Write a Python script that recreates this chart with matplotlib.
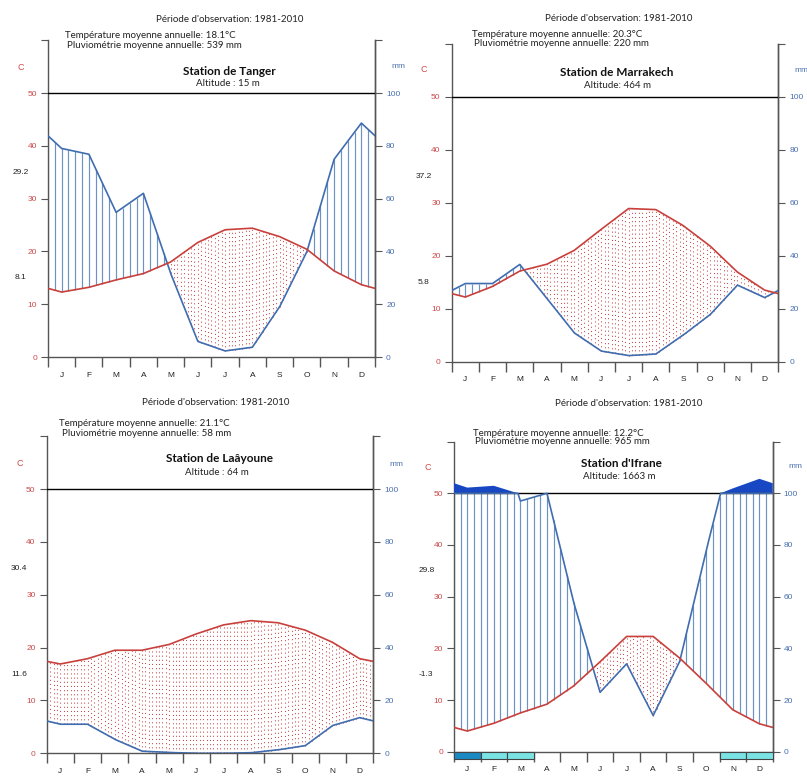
import numpy as np
import matplotlib
matplotlib.use('Agg')
import matplotlib.pyplot as plt
from matplotlib.patches import Rectangle

plt.rcParams['font.family'] = ['Liberation Sans', 'DejaVu Sans']

W, H = 807, 778
months = ['J', 'F', 'M', 'A', 'M', 'J', 'J', 'A', 'S', 'O', 'N', 'D']

# ---- data (monthly means: temperature degC, precipitation mm) ----
tanger_temp = [12.3, 13.2, 14.6, 15.8, 18.0, 21.7, 24.1, 24.4, 22.8, 20.4, 16.3, 13.7]
tanger_prec = [79, 76.8, 54.8, 62, 31.7, 5.9, 2.3, 3.7, 19, 39.9, 74.9, 88.6]
tanger_frost = [0] * 12
tanger_extremes = ['29.2', '8.1']

marrakech_temp = [12.2, 14.2, 17.1, 18.4, 21.0, 25.0, 28.9, 28.7, 25.7, 21.8, 16.9, 13.5]
marrakech_prec = [29.5, 29.5, 36.7, 23.9, 10.9, 4.0, 2.3, 2.9, 10, 17.8, 28.9, 24.2]
marrakech_frost = [0] * 12
marrakech_extremes = ['37.2', '5.8']

laayoune_temp = [16.9, 17.9, 19.5, 19.5, 20.6, 22.6, 24.3, 25.1, 24.7, 23.3, 21.0, 17.9]
laayoune_prec = [11, 11, 5.3, 0.8, 0.3, 0, 0, 0.2, 1.3, 2.9, 10.5, 13.5]
laayoune_frost = [0] * 12
laayoune_extremes = ['30.4', '11.6']

ifrane_temp = [4.0, 5.5, 7.5, 9.2, 12.7, 17.4, 22.3, 22.3, 18.1, 13.2, 8.1, 5.4]
ifrane_prec = [122, 129, 97, 100, 58, 23, 34, 14, 35, 78, 119, 156]
ifrane_frost = [2, 1, 1, 0, 0, 0, 0, 0, 0, 0, 1, 1]   # 2 = sure frost, 1 = probable
ifrane_extremes = ['29.8', '-1.3']

stations = [
    dict(name="Station de Tanger", alt="Altitude : 15 m",
         tline="Température moyenne annuelle: 18.1°C",
         pline="Pluviométrie moyenne annuelle: 539 mm",
         temp=tanger_temp, prec=tanger_prec, frost=tanger_frost, ext=tanger_extremes,
         box=(48, 375, 357, 40.2),
         per=(230, 19), tl=(65, 36), pl=(67, 45.5), c=(21, 67), mm=(391, 67),
         st=(229, 71.5), al=(228, 83.5)),
    dict(name="Station de Marrakech", alt="Altitude: 464 m",
         tline="Température moyenne annuelle: 20.3°C",
         pline="Pluviométrie moyenne annuelle: 220 mm",
         temp=marrakech_temp, prec=marrakech_prec, frost=marrakech_frost, ext=marrakech_extremes,
         box=(451.7, 778.3, 361.7, 43.7),
         per=(619, 18.5), tl=(472, 34.5), pl=(474, 43), c=(424, 70), mm=(794, 70),
         st=(617, 72), al=(617.5, 85)),
    dict(name="Station de Laâyoune", alt="Altitude : 64 m",
         tline="Température moyenne annuelle: 21.1°C",
         pline="Pluviométrie moyenne annuelle: 58 mm",
         temp=laayoune_temp, prec=laayoune_prec, frost=laayoune_frost, ext=laayoune_extremes,
         box=(46.7, 373.3, 753.3, 436.2),
         per=(216, 402.5), tl=(59, 423.5), pl=(62, 433), c=(20, 463), mm=(389, 464),
         st=(219, 459), al=(217, 472.5)),
    dict(name="Station d'Ifrane", alt="Altitude: 1663 m",
         tline="Température moyenne annuelle: 12.2°C",
         pline="Pluviométrie moyenne annuelle: 965 mm",
         temp=ifrane_temp, prec=ifrane_prec, frost=ifrane_frost, ext=ifrane_extremes,
         box=(454, 772.7, 751.7, 441.6),
         per=(629, 404), tl=(473, 433), pl=(475, 442), c=(428, 468), mm=(788, 467),
         st=(621.5, 463), al=(619.5, 476)),
]

RED = '#c8403c'
BLUE = '#3f6db0'
HATCH = '#6a92c2'
DARK = '#1747c2'
AXC = '#555555'

fig = plt.figure(figsize=(W / 100, H / 100), dpi=100)


def P(x, y):
    return x / W, 1 - y / H


def scale_p(p):
    p = np.asarray(p, dtype=float)
    return np.where(p > 100, 50 + (p - 100) * 0.05, p / 2.0)


for s in stations:
    left, right, y0, y60 = s['box']
    ax = fig.add_axes([left / W, 1 - y0 / H, (right - left) / W, (y0 - y60) / H])
    ax.set_xlim(0, 12)
    ax.set_ylim(0, 60)
    ax.patch.set_alpha(0)

    t = np.asarray(s['temp'], float)
    p = np.asarray(s['prec'], float)
    xe = np.concatenate([[0], np.arange(0.5, 12, 1.0), [12]])
    te = np.concatenate([[(t[0] + t[-1]) / 2], t, [(t[0] + t[-1]) / 2]])
    pe = np.concatenate([[(p[0] + p[-1]) / 2], p, [(p[0] + p[-1]) / 2]])

    # humid period: vertical hatching
    xh = np.arange(0, 12.0001, 0.25)
    th = np.interp(xh, xe, te)
    ph = scale_p(np.interp(xh, xe, pe))
    m = ph > th
    ax.vlines(xh[m], th[m], np.minimum(ph[m], 50), colors=HATCH, lw=0.85, zorder=2)

    # arid period: dotted red vertical lines
    xa = np.arange(0, 12.0001, 1 / 8)
    ta = np.interp(xa, xe, te)
    pa = scale_p(np.interp(xa, xe, pe))
    m = ta > pa
    ax.vlines(xa[m], pa[m], ta[m], colors='#c84a46', lw=0.75,
              linestyles=[(0, (1, 3))], zorder=2)

    # dense precipitation curve
    xd = np.linspace(0, 12, 1201)
    pd_ = scale_p(np.interp(xd, xe, pe))
    ax.fill_between(xd, 50, pd_, where=pd_ > 50, color=DARK, lw=0, zorder=3)

    ax.axhline(50, color='black', lw=1.0, zorder=4)
    ax.plot(xd, np.minimum(pd_, 50), color=BLUE, lw=1.2, zorder=5)
    ax.plot(xe, te, color=RED, lw=1.2, zorder=5)

    # frost boxes
    for i, f in enumerate(s['frost']):
        if f:
            ax.add_patch(Rectangle((i, -1.47), 1, 1.47,
                                   facecolor='#1a8ac4' if f == 2 else '#7ae3e3',
                                   edgecolor='#444444', lw=0.8, clip_on=False, zorder=6))

    # axes styling
    ax.spines['top'].set_visible(False)
    for sp in ['left', 'right', 'bottom']:
        ax.spines[sp].set_color(AXC)
        ax.spines[sp].set_linewidth(1.0)
    ax.set_yticks(np.arange(0, 61, 10))
    ax.set_yticklabels(['0', '10', '20', '30', '40', '50', ''])
    ax.tick_params(axis='y', colors=AXC, labelcolor='#cc4a4a', length=5, width=0.8,
                   labelsize=6, pad=3)
    ax.set_xticks(np.arange(0, 13))
    ax.set_xticklabels([''] * 13)
    ax.tick_params(axis='x', which='major', colors=AXC, length=7, width=1.0)
    ax.set_xticks(np.arange(0.5, 12, 1), minor=True)
    ax.set_xticklabels(months, minor=True)
    ax.tick_params(axis='x', which='minor', length=0, pad=10.5, labelsize=6, labelcolor='#222222')

    sec = ax.secondary_yaxis('right', functions=(lambda v: v * 2, lambda v: v / 2))
    sec.set_yticks(np.arange(0, 121, 20))
    sec.set_yticklabels(['0', '20', '40', '60', '80', '100', ''])
    sec.tick_params(colors=AXC, labelcolor='#4a6fb0', length=5, width=0.8, labelsize=6, pad=3)
    sec.spines['right'].set_color(AXC)
    sec.spines['right'].set_linewidth(1.0)

    # extreme values at left
    for val, yv in zip(s['ext'], [35, 15]):
        ax.annotate(val, xy=(0, yv), xycoords='data', xytext=(-20, 0),
                    textcoords='offset points', ha='center', va='center',
                    fontsize=6, color='#222222', annotation_clip=False)

    # header texts
    tf = ['Lato', 'DejaVu Sans']
    fig.text(*P(*s['per']), "Période d'observation: 1981-2010", ha='center', va='center',
             fontsize=7, family=tf, color='#222222')
    fig.text(*P(*s['tl']), s['tline'], ha='left', va='center', fontsize=7, family=tf, color='#222222')
    fig.text(*P(*s['pl']), s['pline'], ha='left', va='center', fontsize=7, family=tf, color='#222222')
    fig.text(*P(*s['st']), s['name'], ha='center', va='center', fontsize=8.5,
             family=tf, weight='bold', color='#111111')
    fig.text(*P(*s['al']), s['alt'], ha='center', va='center', fontsize=7, family=tf, color='#222222')
    fig.text(*P(*s['c']), 'C', ha='center', va='center', fontsize=6.5, color='#cc4a4a')
    fig.text(*P(*s['mm']), 'mm', ha='left', va='center', fontsize=6, color='#4a6fb0')

fig.savefig('out.png', dpi=100, facecolor='white')
